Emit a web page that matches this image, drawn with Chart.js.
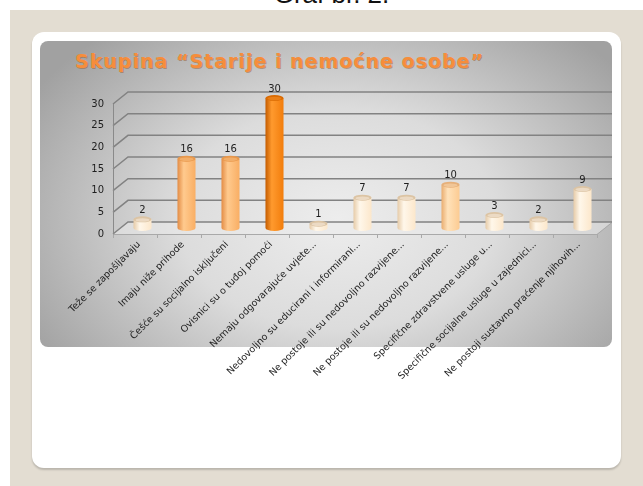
<!DOCTYPE html>
<html>
<head>
<meta charset="utf-8">
<script src="https://cdn.jsdelivr.net/npm/chart.js@4/dist/chart.umd.min.js"></script>
<style>
  html, body { margin: 0; padding: 0; }
  body { width: 643px; height: 486px; background: #fff; position: relative; overflow: hidden; }
  #slide { position: absolute; left: 10px; top: 10px; width: 633px; height: 476px; background: #e3ddd2; }
  #top { position: absolute; left: 0; top: 0; width: 643px; height: 10px; overflow: hidden; }
  #top span { position: absolute; left: 10px; width: 643px; top: -19px; text-align: center;
    font: 26px "Liberation Sans", Arial, sans-serif; color: #111; line-height: 26px; }
  #card { position: absolute; left: 32px; top: 32px; width: 589px; height: 436px; background: #fff;
    border-radius: 12px; box-shadow: 0 2px 2px rgba(0,0,0,0.18); }
  #panel { position: absolute; left: 40px; top: 41px; width: 572px; height: 306px; border-radius: 8px;
    background: radial-gradient(ellipse 62% 80% at 52% 58%, #ededed 0%, #dcdcdc 45%, #a1a1a1 100%); }
  #title { position: absolute; left: 75px; top: 51px; font: bold 19px "DejaVu Sans", Verdana, sans-serif;
    letter-spacing: 1px; color: #f68d3b; line-height: 20px; white-space: nowrap;
    text-shadow: 1px 1px 0 rgba(150,85,30,0.45); }
  #wrap { position: absolute; left: 0; top: 0; width: 643px; height: 486px; }
</style>
</head>
<body>
<div id="slide"></div>
<div id="top"><span>Graf br. 2.</span></div>
<div id="card"></div>
<div id="panel"></div>
<div id="title">Skupina “Starije i nemoćne osobe”</div>
<div id="wrap"><canvas id="chart" width="643" height="486"></canvas></div>
<script>
const categories = [
    "Teže se zapošljavaju",
    "Imaju niže prihode",
    "Češće su socijalno isključeni",
    "Ovisnici su o tuđoj pomoći",
    "Nemaju odgovarajuće uvjete...",
    "Nedovoljno su educirani i informirani...",
    "Ne postoje ili su nedovoljno razvijene...",
    "Ne postoje ili su nedovoljno razvijene...",
    "Specifične zdravstvene usluge u...",
    "Specifične socijalne usluge u zajednici...",
    "Ne postoji sustavno praćenje njihovih..."
];
const values = [2, 16, 16, 30, 1, 7, 7, 10, 3, 2, 9];
const yTicks = [0, 5, 10, 15, 20, 25, 30];

// 3D depth of the back wall, bars sit half way
const DX = 15, DY = -12;

function colorFor(v) {
    if (v >= 25) return { dark: "#c45c00", light: "#ff9a2e", body: "#f27d0c", top: "#d96a02" };
    if (v >= 12) return { dark: "#e38c45", light: "#ffca8e", body: "#f9ae64", top: "#e8984c" };
    if (v >= 10) return { dark: "#e9ad70", light: "#ffe2ba", body: "#fccb92", top: "#e6b07a" };
    return { dark: "#e6cba8", light: "#fff7ea", body: "#fce7cb", top: "#dcc4a4" };
}

const BAR_PCT = 0.41;

const cubePlugin = {
    id: "cube",
    beforeDatasetsDraw(chart) {
        const { ctx, chartArea: { left, right, bottom }, scales: { x, y } } = chart;
        ctx.save();
        // floor
        ctx.fillStyle = "rgba(235,235,235,0.55)";
        ctx.beginPath();
        ctx.moveTo(left, bottom);
        ctx.lineTo(right, bottom);
        ctx.lineTo(right + DX, bottom + DY);
        ctx.lineTo(left + DX, bottom + DY);
        ctx.closePath();
        ctx.fill();
        ctx.strokeStyle = "#a9a9a9";
        ctx.lineWidth = 1;
        ctx.beginPath();
        ctx.moveTo(left, bottom + 0.5);
        ctx.lineTo(right, bottom + 0.5);
        ctx.lineTo(right + DX, bottom + DY + 0.5);
        ctx.stroke();
        // category ticks under the floor
        const n = categories.length;
        const step = (right - left) / n;
        ctx.beginPath();
        for (let i = 0; i <= n; i++) {
            const xx = Math.round(left + i * step) + 0.5;
            ctx.moveTo(xx, bottom);
            ctx.lineTo(xx, bottom + 4);
        }
        ctx.stroke();
        // walls
        ctx.strokeStyle = "#828282";
        ctx.lineWidth = 1.5;
        yTicks.forEach(v => {
            const yy = y.getPixelForValue(v);
            ctx.beginPath();
            ctx.moveTo(left, yy);
            ctx.lineTo(left + DX, yy + DY);
            ctx.lineTo(right + DX, yy + DY);
            ctx.stroke();
        });
        ctx.lineWidth = 1;
        ctx.strokeStyle = "#8a8a8a";
        ctx.beginPath();
        ctx.moveTo(left + 0.5, y.getPixelForValue(30));
        ctx.lineTo(left + 0.5, bottom);
        ctx.stroke();
        ctx.restore();
        // bars drawn at mid depth
        ctx.save();
        ctx.translate(DX / 2, DY / 2);
    },
    afterDatasetsDraw(chart) {
        const { ctx } = chart;
        const meta = chart.getDatasetMeta(0);
        meta.data.forEach((el, i) => {
            const c = colorFor(values[i]);
            const w = el.width, rx = w / 2, ry = 3;
            // bottom cap
            const g = ctx.createLinearGradient(el.x - rx, 0, el.x + rx, 0);
            g.addColorStop(0, c.dark);
            g.addColorStop(0.35, c.light);
            g.addColorStop(1, c.body);
            ctx.fillStyle = g;
            ctx.beginPath();
            ctx.ellipse(el.x, el.base, rx, ry, 0, 0, Math.PI);
            ctx.fill();
            // top cap
            ctx.fillStyle = c.top;
            ctx.beginPath();
            ctx.ellipse(el.x, el.y, rx, ry, 0, 0, Math.PI * 2);
            ctx.fill();
            ctx.fillStyle = c.light;
            ctx.globalAlpha = 0.45;
            ctx.beginPath();
            ctx.ellipse(el.x, el.y + 0.6, rx - 2, ry - 1.2, 0, 0, Math.PI * 2);
            ctx.fill();
            ctx.globalAlpha = 1;
        });
        ctx.restore();
        // value labels
        ctx.save();
        ctx.fillStyle = "#1e1e1e";
        ctx.font = "10px 'DejaVu Sans', Verdana, sans-serif";
        ctx.textAlign = "center";
        ctx.textBaseline = "middle";
        meta.data.forEach((el, i) => {
            ctx.fillText(String(values[i]), el.x + DX / 2, el.y + DY / 2 - 9);
        });
        ctx.restore();
    }
};

new Chart(document.getElementById("chart"), {
    type: "bar",
    data: {
        labels: categories,
        datasets: [{
            data: values,
            clip: false,
            categoryPercentage: 1,
            barPercentage: BAR_PCT,
            borderWidth: 0,
            backgroundColor: (c) => {
                const col = colorFor(c.raw);
                const chart = c.chart;
                if (!chart.chartArea) return col.body;
                const xs = chart.scales.x;
                const cx = xs.getPixelForValue(c.dataIndex);
                const w = xs.width / categories.length * BAR_PCT;
                const g = chart.ctx.createLinearGradient(cx - w / 2, 0, cx + w / 2, 0);
                g.addColorStop(0, col.dark);
                g.addColorStop(0.35, col.light);
                g.addColorStop(1, col.body);
                return g;
            }
        }]
    },
    options: {
        responsive: false,
        animation: false,
        layout: { padding: { top: 104, right: 46, left: 0, bottom: 0 } },
        plugins: {
            legend: { display: false },
            tooltip: { enabled: false }
        },
        scales: {
            x: {
                grid: { display: false, drawTicks: false },
                border: { display: false },
                afterFit: (s) => { s.height = 252; },
                ticks: {
                    autoSkip: false,
                    minRotation: 45,
                    maxRotation: 45,
                    padding: 5,
                    labelOffset: 4,
                    color: "#1e1e1e",
                    font: { family: "'DejaVu Sans', Verdana, sans-serif", size: 9.5 }
                }
            },
            y: {
                min: 0,
                max: 30,
                grid: { display: false, drawTicks: false },
                border: { display: false },
                afterFit: (s) => { s.width = 113; },
                ticks: {
                    stepSize: 5,
                    padding: 9,
                    color: "#1e1e1e",
                    font: { family: "'DejaVu Sans', Verdana, sans-serif", size: 10 }
                }
            }
        }
    },
    plugins: [cubePlugin]
});
</script>
</body>
</html>
